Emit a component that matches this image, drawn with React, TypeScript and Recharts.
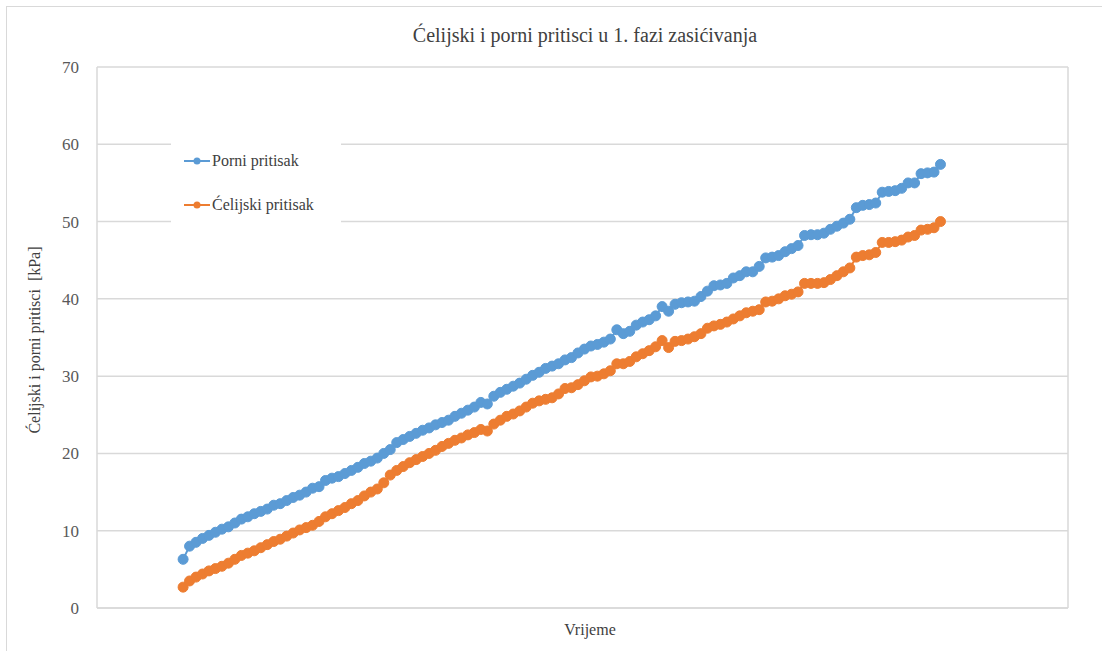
import { CartesianGrid, Line, LineChart, XAxis, YAxis } from "recharts";

// porni (pore) pressure, kPa, evenly sampled along the time axis
const PORNI = [
  6.3, 8.0, 8.5, 9.0, 9.4, 9.8, 10.2, 10.5, 11.0, 11.5,
  11.8, 12.2, 12.5, 12.8, 13.3, 13.5, 13.9, 14.3, 14.6, 15.0,
  15.5, 15.7, 16.5, 16.8, 17.0, 17.4, 17.8, 18.2, 18.7, 19.0,
  19.4, 20.0, 20.5, 21.4, 21.8, 22.2, 22.6, 23.0, 23.3, 23.7,
  24.0, 24.3, 24.8, 25.2, 25.6, 26.0, 26.6, 26.4, 27.4, 27.9,
  28.3, 28.7, 29.1, 29.6, 30.1, 30.5, 31.0, 31.3, 31.6, 32.1,
  32.4, 33.0, 33.5, 33.9, 34.1, 34.4, 34.8, 36.0, 35.5, 35.8,
  36.6, 37.0, 37.3, 37.8, 39.0, 38.4, 39.3, 39.5, 39.6, 39.7,
  40.3, 41.0, 41.7, 41.8, 42.0, 42.7, 43.0, 43.5, 43.5, 44.2,
  45.3, 45.4, 45.6, 46.1, 46.5, 46.9, 48.2, 48.3, 48.3, 48.5,
  49.0, 49.4, 49.8, 50.3, 51.8, 52.1, 52.2, 52.4, 53.8, 53.9,
  54.0, 54.3, 55.0, 55.0, 56.2, 56.3, 56.4, 57.4,
];

// ćelijski (cell) pressure, kPa, same sampling
const CELIJSKI = [
  2.7, 3.5, 4.0, 4.4, 4.8, 5.1, 5.4, 5.8, 6.3, 6.8,
  7.1, 7.4, 7.8, 8.2, 8.6, 8.9, 9.3, 9.7, 10.1, 10.4,
  10.7, 11.2, 11.8, 12.2, 12.6, 13.0, 13.5, 13.9, 14.5, 15.0,
  15.4, 16.2, 17.2, 17.8, 18.3, 18.8, 19.2, 19.6, 20.0, 20.4,
  20.9, 21.3, 21.7, 22.0, 22.4, 22.7, 23.1, 22.9, 23.8, 24.3,
  24.8, 25.1, 25.5, 26.0, 26.5, 26.8, 27.0, 27.2, 27.7, 28.4,
  28.5, 28.9, 29.4, 29.9, 30.0, 30.3, 30.7, 31.6, 31.6, 31.9,
  32.5, 32.9, 33.3, 33.8, 34.6, 33.7, 34.5, 34.6, 34.8, 35.1,
  35.5, 36.2, 36.5, 36.7, 37.0, 37.4, 37.8, 38.2, 38.4, 38.6,
  39.6, 39.7, 40.0, 40.4, 40.6, 40.9, 42.0, 42.0, 42.0, 42.1,
  42.5, 43.0, 43.5, 44.0, 45.4, 45.6, 45.7, 46.0, 47.3, 47.3,
  47.4, 47.6, 48.0, 48.2, 48.9, 49.0, 49.2, 50.0,
];

const Y_TICKS = [0, 10, 20, 30, 40, 50, 60, 70];

const BLUE = "#5B9BD5";
const ORANGE = "#ED7D31";
const GRID = "#D9D9D9";
const TEXT = "#404040";
const FONT = "Liberation Serif, DejaVu Serif, serif";

// x layout: 10 empty gridline intervals, 15 samples per interval
const PER_CELL = 15;
const X_START = -13.3;
const X_TICKS = Array.from({ length: 11 }, (_, i) => X_START + i * PER_CELL);

const data = PORNI.map((p, i) => ({ t: i, porni: p, celijski: CELIJSKI[i] }));

const LEGEND = [
  { label: "Porni pritisak", color: BLUE },
  { label: "Ćelijski pritisak", color: ORANGE },
];

export default function App() {
  return (
    <div
      style={{
        position: "absolute",
        left: 0,
        top: 0,
        width: 1102,
        height: 651,
        background: "#fff",
        overflow: "hidden",
        fontFamily: FONT,
      }}
    >
      <div
        style={{
          position: "absolute",
          left: 6,
          top: 6,
          width: 1110,
          height: 660,
          border: `1px solid ${GRID}`,
        }}
      />
      <div style={{ position: "absolute", left: 0, top: 0 }}>
        <LineChart
          width={1102}
          height={651}
          data={data}
          margin={{ top: 67, right: 34, bottom: 13, left: 57 }}
        >
          <CartesianGrid stroke={GRID} strokeWidth={1.5} />
          <XAxis
            dataKey="t"
            type="number"
            domain={[X_START, X_START + 10 * PER_CELL]}
            ticks={X_TICKS}
            tick={false}
            tickLine={false}
            stroke={GRID}
            strokeWidth={1.5}
            height={30}
          />
          <YAxis
            type="number"
            domain={[0, 70]}
            ticks={Y_TICKS}
            axisLine={false}
            tickLine={false}
            width={40}
            tickMargin={12}
            tick={{ fontFamily: FONT, fontSize: 17, fill: "#595959" }}
          />
          <Line
            type="linear"
            dataKey="porni"
            name="Porni pritisak"
            stroke={BLUE}
            strokeWidth={2}
            dot={{ r: 5, fill: BLUE, stroke: BLUE, strokeWidth: 1 }}
            isAnimationActive={false}
          />
          <Line
            type="linear"
            dataKey="celijski"
            name="Ćelijski pritisak"
            stroke={ORANGE}
            strokeWidth={2}
            dot={{ r: 5, fill: ORANGE, stroke: ORANGE, strokeWidth: 1 }}
            isAnimationActive={false}
          />
        </LineChart>
      </div>
      <div
        style={{
          position: "absolute",
          top: 24,
          left: 0,
          width: 1170,
          textAlign: "center",
          fontFamily: FONT,
          fontSize: 20,
          color: TEXT,
        }}
      >
        Ćelijski i porni pritisci u 1. fazi zasićivanja
      </div>
      <div
        style={{
          position: "absolute",
          left: 35,
          top: 340,
          transform: "translate(-50%, -50%) rotate(-90deg)",
          whiteSpace: "nowrap",
          fontFamily: FONT,
          fontSize: 16,
          color: TEXT,
        }}
      >
        Ćelijski i porni pritisci&nbsp;&nbsp;[kPa]
      </div>
      <div
        style={{
          position: "absolute",
          top: 621,
          left: 545,
          width: 90,
          textAlign: "center",
          fontFamily: FONT,
          fontSize: 16,
          color: TEXT,
        }}
      >
        Vrijeme
      </div>
      <div
        style={{
          position: "absolute",
          left: 171,
          top: 138,
          width: 170,
          height: 90,
          background: "#fff",
          paddingTop: 12,
          boxSizing: "border-box",
        }}
      >
        {LEGEND.map((it) => (
          <div
            key={it.label}
            style={{ display: "flex", alignItems: "center", height: 22, marginBottom: 22 }}
          >
            <svg width={28} height={10} style={{ marginLeft: 13 }}>
              <line x1={0} y1={5} x2={26} y2={5} stroke={it.color} strokeWidth={2} />
              <circle cx={13} cy={5} r={3.5} fill={it.color} />
            </svg>
            <span style={{ fontFamily: FONT, fontSize: 16, color: TEXT }}>{it.label}</span>
          </div>
        ))}
      </div>
    </div>
  );
}
